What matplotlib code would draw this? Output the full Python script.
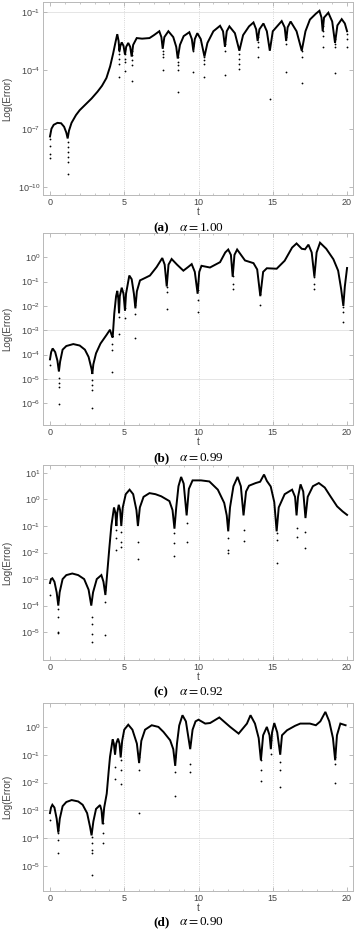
import numpy as np
import matplotlib.pyplot as plt

plt.rcParams['font.family'] = 'Liberation Sans'
plt.rcParams['mathtext.fontset'] = 'stix'

# ---- panel (a) alpha = 1.00 : curve (t, log10 error) ----
ta = [0.0, 0.1, 0.25, 0.5, 0.75, 0.95, 1.1, 1.19, 1.28, 1.45, 1.75, 2.0, 2.4, 2.8, 3.2, 3.5,
      3.8, 4.05, 4.25, 4.4, 4.53, 4.62, 4.67, 4.74, 4.83, 4.95, 5.05, 5.13, 5.27, 5.4, 5.5,
      5.6, 5.84, 6.2, 6.7, 7.0, 7.36, 7.5, 7.59, 7.7, 7.97, 8.3, 8.5, 8.6, 8.75, 9.0, 9.38,
      9.55, 9.65, 9.75, 9.92, 10.15, 10.4, 10.6, 11.0, 11.45, 11.65, 11.78, 11.9, 12.08,
      12.45, 12.75, 13.0, 13.4, 13.7, 13.88, 13.98, 14.1, 14.37, 14.6, 14.8, 15.0, 15.6,
      15.8, 15.9, 16.0, 16.2, 16.6, 16.95, 17.2, 17.5, 17.9, 18.14, 18.28, 18.36, 18.45,
      18.74, 19.0, 19.19, 19.35, 19.64, 19.85, 20.0]
la = [-7.4, -7.0, -6.8, -6.7, -6.72, -6.9, -7.2, -7.5, -7.1, -6.7, -6.3, -6.05, -5.75, -5.45,
      -5.1, -4.8, -4.4, -3.8, -3.15, -2.6, -2.15, -2.5, -3.0, -2.75, -2.57, -2.75, -3.2, -2.8,
      -2.6, -2.8, -3.3, -2.7, -2.35, -2.38, -2.35, -2.2, -2.0, -2.3, -2.9, -2.3, -2.0, -2.3,
      -2.8, -3.4, -2.7, -2.25, -2.05, -2.4, -3.0, -2.4, -2.1, -2.4, -3.3, -2.6, -2.0, -1.72,
      -2.0, -2.8, -2.0, -1.75, -2.1, -3.0, -2.2, -1.75, -1.55, -1.9, -2.5, -1.9, -1.6, -2.0,
      -3.0, -2.0, -1.48, -1.8, -2.5, -1.8, -1.5, -2.0, -3.0, -2.0, -1.4, -1.1, -0.95, -1.3,
      -2.0, -1.3, -1.05, -1.5, -2.6, -1.7, -1.38, -1.6, -2.0]
# isolated points in the dips
dta = [0.02, 0.02, 0.02, 0.02, 1.19, 1.19, 1.19, 1.19, 1.19, 1.19, 4.67, 4.67, 4.67, 4.67,
       4.67, 4.67, 5.05, 5.05, 5.05, 5.05, 5.05, 5.5, 5.5, 5.5, 5.5, 5.5, 7.59, 7.59, 7.59,
       7.59, 8.6, 8.6, 8.6, 8.6, 8.6, 9.65, 9.65, 9.65, 10.4, 10.4, 10.4, 10.4, 11.78, 11.78,
       11.78, 12.75, 12.75, 12.75, 12.75, 13.98, 13.98, 13.98, 13.98, 14.8, 15.9, 15.9, 15.9,
       16.95, 16.95, 16.95, 18.36, 18.36, 18.36, 18.36, 19.19, 19.19, 19.19, 19.19, 20.0,
       20.0, 20.0]
dla = [-7.55, -7.9, -8.3, -8.5, -7.7, -7.96, -8.2, -8.47, -8.7, -9.3, -2.82, -2.99, -3.19,
       -3.41, -3.66, -4.34, -2.9, -3.16, -3.41, -3.58, -4.04, -2.99, -3.24, -3.5, -3.75,
       -4.54, -3.0, -3.16, -3.33, -4.0, -3.33, -3.58, -3.75, -4.0, -5.1, -2.74, -2.99, -4.09,
       -3.33, -3.5, -3.66, -4.34, -2.65, -2.99, -4.25, -3.16, -3.41, -3.66, -3.92, -2.32,
       -2.57, -2.82, -3.33, -5.47, -2.32, -2.65, -4.09, -2.99, -3.33, -4.68, -1.73, -1.98,
       -2.23, -2.79, -2.4, -2.65, -2.82, -4.14, -2.15, -2.4, -2.82]

# ---- panel (b) alpha = 0.99 ----
tb = [0.0, 0.08, 0.18, 0.35, 0.5, 0.6, 0.68, 0.85, 1.1, 1.57, 2.0, 2.35, 2.6, 2.8, 2.85, 2.92,
      3.1, 3.4, 3.8, 4.04, 4.15, 4.22, 4.33, 4.45, 4.53, 4.6, 4.65, 4.7, 4.83, 4.95, 5.05,
      5.12, 5.34, 5.5, 5.65, 5.75, 5.85, 6.06, 6.4, 6.73, 7.18, 7.56, 7.72, 7.86, 7.98, 8.19,
      8.55, 8.98, 9.3, 9.54, 9.75, 9.94, 10.05, 10.2, 10.77, 11.45, 11.8, 12.0, 12.18, 12.3,
      12.42, 12.6, 13.13, 13.7, 13.95, 14.16, 14.35, 14.6, 15.26, 15.8, 16.3, 16.6, 16.95,
      17.17, 17.4, 17.62, 17.8, 17.95, 18.18, 18.6, 19.08, 19.4, 19.6, 19.75, 19.85, 20.0]
lb = [-4.2, -3.9, -3.75, -3.9, -4.25, -4.7, -4.3, -3.8, -3.65, -3.57, -3.63, -3.8, -4.1, -4.6,
      -4.8, -4.4, -3.95, -3.55, -3.2, -2.98, -3.2, -3.3, -2.3, -1.6, -1.38, -1.7, -2.3, -1.6,
      -1.25, -1.5, -2.2, -1.5, -0.75, -0.9, -1.5, -2.1, -1.4, -0.95, -0.85, -0.75, -0.4,
      -0.03, -0.3, -1.2, -0.3, -0.07, -0.3, -0.55, -0.4, -0.28, -0.6, -1.5, -0.6, -0.35,
      -0.42, -0.2, 0.2, 0.32, 0.1, -0.8, 0.1, 0.32, -0.13, -0.24, -0.5, -1.6, -0.6, -0.45,
      -0.47, -0.14, 0.4, 0.57, 0.35, 0.33, 0.52, 0.2, -0.8, 0.2, 0.6, 0.35, -0.08, -0.55,
      -1.3, -2.0, -1.2, -0.44]
dtb = [0.0, 0.63, 0.63, 0.63, 0.63, 2.85, 2.85, 2.85, 2.85, 4.2, 4.2, 4.2, 4.65, 4.65, 5.05,
       5.05, 5.75, 5.75, 5.75, 7.86, 7.86, 7.86, 9.94, 9.94, 9.94, 12.3, 12.3, 12.3, 14.16,
       14.16, 17.8, 17.8, 17.8, 19.75, 19.75, 19.75]
dlb = [-4.43, -4.98, -5.18, -5.32, -6.03, -5.05, -5.25, -5.46, -6.2, -3.55, -3.82, -4.7,
       -2.46, -3.16, -2.1, -2.48, -1.98, -2.32, -3.32, -1.23, -1.43, -2.13, -1.36, -1.77,
       -2.25, -0.75, -1.09, -1.3, -1.5, -1.98, -0.82, -1.09, -1.3, -2.05, -2.25, -2.66]

# ---- panel (c) alpha = 0.92 ----
tc = [0.0, 0.07, 0.16, 0.3, 0.45, 0.56, 0.65, 0.85, 1.1, 1.5, 1.9, 2.3, 2.6, 2.78, 2.9, 3.15,
      3.46, 3.6, 3.73, 3.85, 4.0, 4.13, 4.31, 4.4, 4.47, 4.53, 4.63, 4.72, 4.8, 4.9, 5.1,
      5.36, 5.6, 5.82, 5.92, 6.05, 6.3, 6.7, 7.1, 7.49, 8.04, 8.25, 8.38, 8.5, 8.65, 8.83,
      9.0, 9.2, 9.35, 9.6, 10.17, 10.73, 11.3, 11.73, 11.9, 12.0, 12.12, 12.35, 12.63,
      12.85, 13.03, 13.2, 13.4, 13.85, 14.15, 14.41, 14.6, 14.86, 15.1, 15.26, 15.4, 15.8,
      16.3, 16.5, 16.6, 16.7, 16.87, 17.05, 17.2, 17.35, 17.7, 18.1, 18.5, 18.88, 19.33,
      19.7, 20.0]
lc = [-3.15, -3.0, -2.97, -3.1, -3.5, -4.0, -3.5, -3.0, -2.85, -2.79, -2.85, -3.0, -3.4, -4.0,
      -3.5, -3.0, -2.85, -3.1, -3.6, -2.8, -1.8, -1.0, -0.3, -0.5, -1.0, -0.5, -0.2, -0.4,
      -1.0, -0.3, 0.2, 0.37, 0.2, -0.4, -1.0, -0.3, 0.1, 0.24, 0.2, 0.12, -0.06, -0.4, -1.1,
      -0.3, 0.5, 0.85, 0.6, -0.6, 0.4, 0.72, 0.72, 0.68, 0.37, -0.13, -0.6, -1.2, -0.3, 0.5,
      0.85, 0.5, -0.6, 0.3, 0.52, 0.62, 0.67, 0.94, 0.7, 0.49, -0.1, -1.2, -0.3, 0.2, 0.37,
      0.1, -0.6, 0.1, 0.57, 0.3, -0.7, 0.1, 0.5, 0.62, 0.45, 0.12, -0.26, -0.45, -0.58]
dtc = [0.0, 0.56, 0.56, 0.56, 0.56, 0.56, 2.8, 2.8, 2.8, 2.8, 3.73, 3.73, 3.73, 4.47, 4.47,
       4.47, 4.8, 4.8, 4.8, 5.92, 5.92, 8.38, 8.38, 8.38, 9.2, 9.2, 12.0, 12.0, 12.0, 13.03,
       13.03, 15.26, 15.26, 15.26, 16.6, 16.6, 17.2, 17.2]
dlc = [-3.6, -3.8, -4.11, -4.43, -5.0, -5.03, -4.43, -4.68, -5.06, -5.38, -3.42, -3.86,
       -5.12, -1.15, -1.46, -1.9, -1.21, -1.59, -1.8, -1.59, -2.25, -1.27, -1.63, -2.12,
       -0.89, -1.6, -1.46, -1.9, -2.03, -1.15, -1.55, -1.27, -1.53, -2.41, -1.08, -1.4,
       -1.21, -1.84]

# ---- panel (d) alpha = 0.90 ----
td = [0.0, 0.07, 0.16, 0.3, 0.45, 0.56, 0.66, 0.85, 1.1, 1.46, 1.9, 2.2, 2.5, 2.7, 2.8, 2.92,
      3.1, 3.37, 3.47, 3.55, 3.65, 3.82, 3.95, 4.04, 4.22, 4.3, 4.38, 4.46, 4.58, 4.68, 4.76,
      4.86, 5.0, 5.27, 5.55, 5.85, 6.0, 6.15, 6.4, 6.85, 7.3, 7.64, 8.09, 8.3, 8.43, 8.55,
      8.7, 8.92, 9.15, 9.44, 9.6, 9.8, 10.0, 10.45, 10.78, 11.4, 12.13, 12.7, 13.26, 13.5,
      13.8, 14.05, 14.2, 14.35, 14.6, 14.78, 14.87, 14.95, 15.1, 15.3, 15.5, 15.62, 15.96,
      16.5, 16.85, 17.5, 17.9, 18.2, 18.54, 18.8, 19.05, 19.2, 19.32, 19.55, 19.9]
ld = [-3.1, -2.9, -2.8, -2.9, -3.3, -3.8, -3.3, -2.85, -2.7, -2.63, -2.68, -2.8, -3.1, -3.6,
      -3.9, -3.4, -2.95, -2.81, -3.0, -3.5, -2.9, -2.4, -1.6, -1.08, -0.45, -0.6, -1.0, -0.6,
      -0.42, -0.6, -1.1, -0.5, -0.1, 0.08, -0.1, -0.6, -1.3, -0.5, -0.1, 0.06, 0.0, -0.18,
      -0.48, -0.8, -1.4, -0.6, 0.05, 0.42, 0.2, -0.8, -0.1, 0.2, 0.26, 0.12, 0.14, 0.34, 0.0,
      -0.24, 0.12, 0.42, 0.12, -0.4, -1.2, -0.3, 0.0, -0.3, -0.8, -0.2, 0.14, -0.2, -1.0,
      -0.3, -0.12, 0.04, 0.12, 0.12, 0.06, 0.2, 0.54, 0.2, -0.4, -1.2, -0.3, 0.12, 0.06]
dtd = [0.0, 0.56, 0.56, 0.56, 0.56, 0.56, 2.8, 2.8, 2.8, 2.8, 2.8, 3.55, 3.55, 3.55, 4.38,
       4.38, 4.76, 4.76, 4.76, 6.0, 6.0, 6.0, 8.43, 8.43, 8.43, 9.44, 9.44, 14.2, 14.2, 14.2,
       14.87, 14.87, 15.5, 15.5, 15.5, 19.2, 19.2, 19.2]
dld = [-3.33, -3.53, -3.71, -3.83, -4.07, -4.55, -3.95, -4.19, -4.43, -4.55, -5.33, -3.47,
       -3.83, -4.17, -1.44, -1.89, -1.2, -1.56, -2.04, -1.08, -1.56, -3.09, -1.08, -1.62,
       -2.49, -1.32, -1.62, -1.2, -1.56, -1.94, -0.48, -0.96, -1.26, -1.56, -2.16, -1.08,
       -1.32, -2.01]

labels = ['(a)', '(b)', '(c)', '(d)']
alphas = ['1.00', '0.99', '0.92', '0.90']

W, H = 356, 930
fig = plt.figure(figsize=(W / 100, H / 100), dpi=100)


def box(top, bottom, left=43, right=353):
    return [left / W, 1 - bottom / H, (right - left) / W, (bottom - top) / H]


panels = [
    (ta, la, dta, dla, (-10.4, -0.5), [-1, -4, -7, -10], [-1], (2, 195), 228),
    (tb, lb, dtb, dlb, (-6.9, 1.0), [0, -1, -2, -3, -4, -5, -6], [-3, -5], (233, 425), 458),
    (tc, lc, dtc, dlc, (-6.05, 1.3), [1, 0, -1, -2, -3, -4, -5], [], (465, 660), 692),
    (td, ld, dtd, dld, (-5.9, 0.86), [0, -1, -2, -3, -4, -5], [-3, -4], (703, 891), 922),
]

for i, (t, l, dt, dl, ylim, yt, hgrid, (top, bot), capy) in enumerate(panels):
    ax = fig.add_axes(box(top, bot))
    ax.plot(t, 10.0 ** np.array(l), color='black', lw=1.4, solid_joinstyle='miter')
    ax.plot(dt, 10.0 ** np.array(dl), 'o', color='black', ms=1.3, mew=0)
    ax.set_yscale('log')
    ax.set_xlim(-0.47, 20.4)
    ax.set_ylim(10.0 ** ylim[0], 10.0 ** ylim[1])
    for x in [5, 10, 15]:
        ax.axvline(x, color='#c8c8c8', lw=0.6, ls=':', zorder=0)
    for h in hgrid:
        ax.axhline(10.0 ** h, color='#e0e0e0', lw=0.6, zorder=0)
    ax.set_xticks([0, 5, 10, 15, 20])
    ax.set_xticks(np.arange(0, 21, 1), minor=True)
    ax.set_yticks([10.0 ** v for v in yt])
    ax.set_yticklabels([r'$\mathdefault{10^{%d}}$' % v for v in yt])
    ax.yaxis.set_minor_locator(plt.NullLocator())
    ax.tick_params(which='both', direction='in', top=True, right=True, colors='#b0b0b0',
                   labelcolor='#444444', labelsize=6.5, pad=2)
    ax.tick_params(which='major', length=3, width=0.6)
    ax.tick_params(which='minor', length=1.5, width=0.5)
    for s in ax.spines.values():
        s.set_color('#b8b8b8')
        s.set_linewidth(0.7)
    ax.set_xlabel('t', fontsize=7, color='#444444', labelpad=0)
    fig.text(7 / W, 1 - (top + bot) / 2 / H, 'Log(Error)', rotation=90, fontsize=7,
             color='#444444', ha='center', va='center')
    fig.text(153 / W, 1 - capy / H, labels[i], family='Liberation Serif', weight='bold',
             fontsize=9.5, va='center')
    fig.text(179 / W, 1 - capy / H, r'$\alpha = $' + alphas[i], family='Liberation Serif',
             fontsize=9.5, va='center')

fig.savefig('out.png', dpi=100)
